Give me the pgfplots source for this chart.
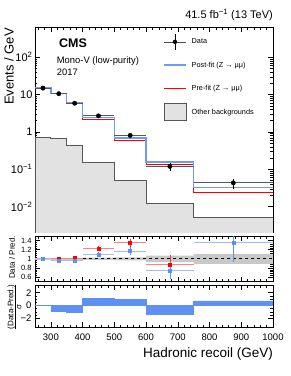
\documentclass[border=0pt]{standalone}
\usepackage{fontspec}
\setmainfont{Liberation Sans}
\usepackage{pgfplots}
\pgfplotsset{compat=1.18}
\definecolor{postblue}{RGB}{110,155,250}
\definecolor{ptblue}{RGB}{95,145,245}
\definecolor{ltblue}{RGB}{160,190,250}
\definecolor{ltred}{RGB}{255,130,130}
\definecolor{bkgfill}{RGB}{226,226,226}
\definecolor{bkgedge}{RGB}{85,85,85}
\definecolor{bandgray}{RGB}{200,200,200}
\pgfplotsset{
  cmsaxis/.style={
    scale only axis, width=238pt, xmin=250, xmax=1000,
    tick align=inside, xtick pos=both, ytick pos=both,
    major tick length=5pt, minor tick length=2.5pt,
    xtick={300,400,500,600,700,800,900,1000},
    minor xtick={260,280,...,1000},
    axis line style={line width=0.7pt},
    every tick/.style={black, line width=0.5pt},
  }
}
\begin{document}
\begin{tikzpicture}
\useasboundingbox (0pt,0pt) rectangle (291pt,-376pt);
% ---------------- main panel ----------------
\begin{axis}[cmsaxis,
  at={(35pt,-232.7pt)}, anchor=south west, height=205.7pt,
  ymode=log, ymin=2e-3, ymax=650,
  xticklabels={},
  ytick={0.01,0.1,1,10,100},
  yticklabels={10\textsuperscript{−2},10\textsuperscript{−1},1,10,10\textsuperscript{2}},
  yticklabel style={font=\fontsize{11}{12}\selectfont, xshift=1pt},
  legend style={at={(axis description cs:0.5378,0.970)}, anchor=north west,
    draw=none, fill=none, inner sep=0pt, row sep=6.3pt, column sep=3pt,
    font=\fontsize{7.3}{8}\selectfont, nodes={inner sep=2pt}},
  legend cell align=left,
]
% other backgrounds
\addplot[const plot, fill=bkgfill, draw=bkgedge, line width=0.8pt, forget plot]
  coordinates {(250,1e-4)(250,0.70)(300,0.66)(350,0.45)(400,0.155)(500,0.051)(600,0.0124)(750,0.0050)(1000,0.0050)(1000,1e-4)} -- cycle;
% pre-fit
\addplot[const plot, red, line width=0.9pt, forget plot]
  coordinates {(250,14.85)(300,10.5)(350,5.78)(400,2.2)(500,0.60)(600,0.136)(750,0.0247)(1000,0.0247)};
% post-fit
\addplot[const plot, postblue, line width=1.3pt, forget plot]
  coordinates {(250,15.1)(300,10.93)(350,6.15)(400,2.45)(500,0.69)(600,0.158)(750,0.0325)(1000,0.0325)};
% data x error bars
\addplot[draw=none, mark=none, forget plot,
  error bars/.cd, x dir=both, x explicit, error mark=none,
  error bar style={black!65, line width=0.8pt}]
  coordinates {(275,15.0) +- (25,0) (325,10.6) +- (25,0) (375,5.9) +- (25,0)
               (450,2.7) +- (50,0) (550,0.81) +- (50,0) (675,0.12) +- (75,0) (875,0.0434) +- (125,0)};
% data points with y errors
\addplot[only marks, mark=*, mark size=2.2pt, black, forget plot,
  error bars/.cd, y dir=both, y explicit, error mark=none,
  error bar style={black, line width=0.7pt}]
  coordinates {(275,15.0) +- (0,0.55) (325,10.6) +- (0,0.46) (375,5.9) +- (0,0.34)
               (450,2.7) +- (0,0.16) (550,0.81) +- (0,0.09) (675,0.12) +- (0,0.029) (875,0.0434) +- (0,0.013)};
% legend
\addlegendimage{draw=none, fill=none, legend image code/.code={
  \path[draw=none, fill=none] (0pt,-8.5pt) rectangle (22pt,8.5pt);
  \draw[draw=black!70, line width=0.7pt] (0pt,0pt) -- (22pt,0pt);
  \draw[draw=black, line width=0.7pt] (11pt,-8pt) -- (11pt,8pt);
  \fill[fill=black] (11pt,0pt) circle (2.2pt);}}
\addlegendentry{Data}
\addlegendimage{draw=none, fill=none, legend image code/.code={
  \path[draw=none, fill=none] (0pt,-8.5pt) rectangle (22pt,8.5pt);
  \draw[draw=postblue, line width=1.5pt] (0pt,0pt) -- (22pt,0pt);}}
\addlegendentry{Post-fit (Z → μμ)}
\addlegendimage{draw=none, fill=none, legend image code/.code={
  \path[draw=none, fill=none] (0pt,-8.5pt) rectangle (22pt,8.5pt);
  \draw[draw=red, line width=1.1pt] (0pt,0pt) -- (22pt,0pt);}}
\addlegendentry{Pre-fit (Z → μμ)}
\addlegendimage{draw=none, fill=none, legend image code/.code={
  \path[draw=bkgedge, fill=bkgfill, line width=0.8pt] (0pt,-8.5pt) rectangle (22pt,8.5pt);}}
\addlegendentry{Other backgrounds}
\end{axis}
% ---------------- ratio panel ----------------
\begin{axis}[cmsaxis,
  at={(35pt,-281.7pt)}, anchor=south west, height=45.7pt,
  ymin=0.5, ymax=1.5,
  xticklabels={},
  ytick={0.6,0.8,1,1.2,1.4}, yticklabels={0.6,0.8,1,1.2,1.4},
  minor y tick num=4,
  yticklabel style={font=\fontsize{7.5}{8}\selectfont},
]
\addplot[fill=bandgray, draw=none]
  coordinates {(250,1.02)(400,1.02)(400,1.025)(500,1.025)(500,1.035)(600,1.035)(600,1.07)(750,1.07)(750,1.11)(1000,1.11)
               (1000,0.89)(750,0.89)(750,0.93)(600,0.93)(600,0.965)(500,0.965)(500,0.975)(400,0.975)(400,0.98)(250,0.98)} -- cycle;
\addplot[black, dashed, line width=0.9pt] coordinates {(250,1)(1000,1)};
% red x errors
\addplot[draw=none, mark=none,
  error bars/.cd, x dir=both, x explicit, error mark=none,
  error bar style={ltred, line width=0.8pt}]
  coordinates {(275,1.01) +- (25,0) (325,1.01) +- (25,0) (375,1.02) +- (25,0)
               (450,1.23) +- (50,0) (550,1.35) +- (50,0) (675,0.88) +- (75,0)};
% blue x errors
\addplot[draw=none, mark=none,
  error bars/.cd, x dir=both, x explicit, error mark=none,
  error bar style={ltblue, line width=0.8pt}]
  coordinates {(275,1.00) +- (25,0) (325,0.97) +- (25,0) (375,0.96) +- (25,0)
               (450,1.10) +- (50,0) (550,1.17) +- (50,0) (675,0.75) +- (75,0) (875,1.35) +- (125,0)};
% red points
\addplot[only marks, mark=square*, mark size=1.5pt, red,
  error bars/.cd, y dir=both, y explicit, error mark=none,
  error bar style={red!80, line width=0.7pt}]
  coordinates {(275,1.01) +- (0,0.03) (325,1.01) +- (0,0.03) (375,1.02) +- (0,0.04)
               (450,1.23) +- (0,0.06) (550,1.35) +- (0,0.08) (675,0.88) +- (0,0.21)};
% blue points
\addplot[only marks, mark=square*, mark size=1.5pt, ptblue,
  error bars/.cd, y dir=both, y explicit, error mark=none,
  error bar style={ptblue, line width=0.7pt}]
  coordinates {(275,1.00) +- (0,0.03) (325,0.97) +- (0,0.03) (375,0.96) +- (0,0.04)
               (450,1.10) +- (0,0.05) (550,1.17) +- (0,0.09) (675,0.75) +- (0,0.19) (875,1.35) +- (0,0.42)};
\end{axis}
% ---------------- pull panel ----------------
\begin{axis}[cmsaxis,
  at={(35pt,-327.3pt)}, anchor=south west, height=42.3pt,
  ymin=-3.4, ymax=3.2,
  xticklabels={300,400,500,600,700,800,900,1000},
  xticklabel style={font=\fontsize{9.5}{10}\selectfont, yshift=-3.5pt},
  ytick={-2,0,2}, yticklabels={−2,0,2},
  minor y tick num=3,
  yticklabel style={font=\fontsize{9.5}{10}\selectfont},
]
\addplot[const plot, fill=ptblue, draw=ptblue, line width=0.6pt]
  coordinates {(250,0)(250,0.05)(300,-0.83)(350,-0.99)(400,1.14)(500,0.99)(600,-1.30)(750,0.73)(1000,0.73)(1000,0)} -- cycle;
\end{axis}
% ---------------- texts ----------------
\node[anchor=base east, font=\fontsize{11}{12}\selectfont, inner sep=0pt] at (273pt,-18pt) {41.5 fb\textsuperscript{−1} (13 TeV)};
\node[anchor=base west, font=\fontsize{12.5}{13}\selectfont\bfseries, inner sep=0pt] at (59pt,-47.3pt) {CMS};
\node[anchor=base west, font=\fontsize{9.4}{10}\selectfont, inner sep=0pt] at (56.7pt,-63.5pt) {Mono-V (low-purity)};
\node[anchor=base west, font=\fontsize{9.4}{10}\selectfont, inner sep=0pt] at (56.7pt,-75pt) {2017};
\node[anchor=base east, rotate=90, font=\fontsize{13}{14}\selectfont, inner sep=0pt] at (13.5pt,-28pt) {Events / GeV};
\node[anchor=base east, rotate=90, font=\fontsize{8}{9}\selectfont, inner sep=0pt] at (15pt,-236pt) {Data / Pred.};
\node[anchor=center, rotate=90, inner sep=0pt] at (14.5pt,-307pt)
  {$\frac{\mbox{\fontsize{8}{9}\selectfont (Data-Pred.)}}{\mbox{\fontsize{8}{9}\selectfont σ}}$};
\node[anchor=base east, font=\fontsize{13.5}{14}\selectfont, inner sep=0pt] at (273pt,-357pt) {Hadronic recoil (GeV)};
\end{tikzpicture}
\end{document}
